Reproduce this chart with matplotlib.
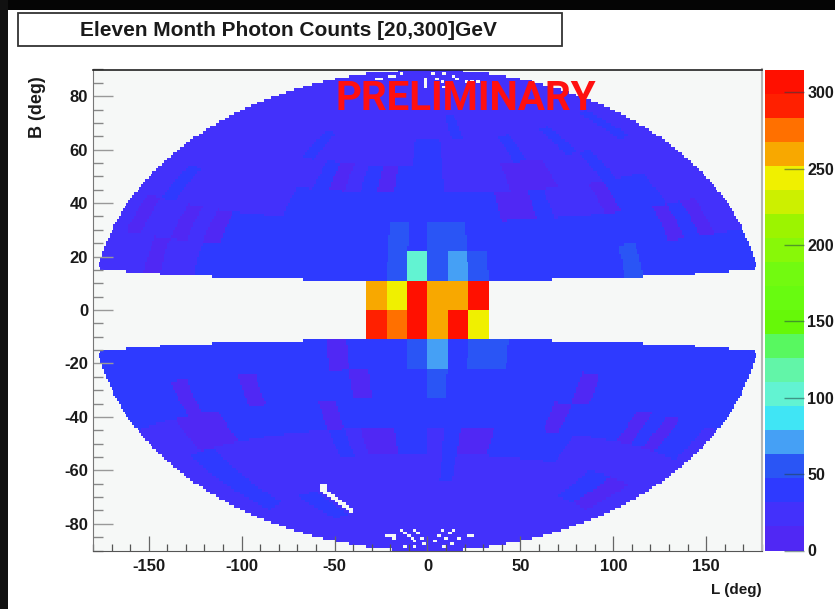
import numpy as np
import matplotlib
matplotlib.use("Agg")
import matplotlib.pyplot as plt
from matplotlib.colors import ListedColormap, BoundaryNorm
from matplotlib.patches import Rectangle
from matplotlib.ticker import MultipleLocator

W, H = 835, 609
plt.rcParams['font.family'] = ['Liberation Sans', 'DejaVu Sans']
plt.rcParams['font.weight'] = 'bold'
plt.rcParams['axes.unicode_minus'] = False

title = "Eleven Month Photon Counts [20,300]GeV"
stamp = "PRELIMINARY"
x_ticks = [-150, -100, -50, 0, 50, 100, 150]
y_ticks = [-80, -60, -40, -20, 0, 20, 40, 60, 80]
z_ticks = [0, 50, 100, 150, 200, 250, 300]
z_max = 315
n = np.nan

# counts per 10x10 degree sky cell; each row runs L = -180 ... 170
b80_90 = [24] * 36
b70_80 = [24] * 36
b60_70 = [24]*20 + [40] + [24]*15
b50_60 = [24,24,24,24,24,24, 24,24,24,40,24,24, 24,24,24,24,24,40, 40,24,24,24,24,24, 40,24,24,24,40,24, 24,24,24,40,24,24]
b40_50 = [24,24,24,24,24,24, 24,24,24,24,24,40, 8,24,40,8,40,40, 40,24,24,24,24,8, 8,8,24,24,24,40, 24,24,24,24,24,24]
b30_40 = [24,24,40,24,24,24, 24,24,24,24,40,40, 40,40,40,40,40,40, 40,40,40,40,8,8, 40,24,24,24,8,40, 40,40,24,24,24,24]
b20_30 = [24,8,24,24,8,24, 8,40,40,40,40,40, 40,40,40,40,55,40, 55,55,40,40,40,40, 40,40,40,40,40,40, 40,8,40,8,24,24]
b10_20 = [24,24,24,8,24,24, 40,40,40,40,40,40, 40,40,40,40,55,102, 55,70,55,40,40,40, 40,40,40,40,55,40, 40,40,40,40,40,40]
b00_10 = [n]*15 + [260,245,305,260,260,305] + [n]*15
bm10_00 = [n]*15 + [290,275,305,260,305,245] + [n]*15
bm20_10 = [40,40,40,40,40,40, 40,40,40,40,40,40, 40,8,40,40,40,55, 70,40,55,55,40,40, 40,40,40,40,40,40, 40,40,40,40,40,40]
bm30_20 = [40,40,40,40,8,40, 40,40,8,40,40,40, 40,40,8,40,40,40, 55,40,40,40,40,40, 40,40,8,40,40,40, 40,40,40,40,40,40]
bm40_30 = [24,24,24,8,8,8, 40,40,40,40,40,40, 8,40,40,40,40,40, 40,40,40,40,40,40, 40,8,40,40,40,40, 8,40,8,40,40,24]
bm50_40 = [24,24,40,40,24,24, 24,24,24,24,24,24, 40,24,8,8,40,40, 24,40,8,8,40,40, 40,40,40,24,24,24, 24,24,24,24,24,24]
bm60_50 = [24,24,40,40,24,24, 24,24,24,24,24,24, 24,24,24,24,24,24, 24,40,24,24,24,24, 24,24,24,24,24,24, 40,40,8,8,24,24]
bm70_60 = [24,24,24,24,24,24, 40,40,24,24,24,24, 24,24,24,24,24,24, 24,24,24,24,24,24, 24,24,24,24,24,24, 24,24,24,24,24,24]
bm80_70 = [24] * 36
bm90_80 = [24] * 36

sky_rows = [bm90_80, bm80_70, bm70_60, bm60_50, bm50_40, bm40_30, bm30_20, bm20_10, bm10_00,
            b00_10, b10_20, b20_30, b30_40, b40_50, b50_60, b60_70, b70_80, b80_90]

# empty map bins (plot L, plot B)
hole_x = [-30,-28,-26,-24,-22,-20,-18, -28,-26,-21,-19,-15, -2,-2,-2,-2, 2,4.5,7,8, 8,13,15,20,23,26,28,30,
          -23,-21,-19,-18.5, -15,-13,-11,-9,-8, -8,-6,-4,-3, -13,-8, 7,5,3, 13,11,9, 21,23,16,12,8,
          -58,-58,-58,-56,-56,-56,-56,-54,-54,-52,-52,-50,-50,-48,-48,-46,-46,-44,-44,-42,-42]
hole_y = [89.5,89.5,89.5,89.5,89.5,89.5,89.5, 86,86,87,87,88.5, 86,85,84,83, 88,86.6,85,83.5, 88.5,87,86,85.5,85.5,85,89,89,
          -85,-85,-85,-86, -82.5,-83.5,-85,-86,-87, -82.5,-84,-86,-88, -89,-88.5, -82.5,-85,-87, -82.5,-84,-85.5, -85,-85,-86,-87.5,-88.5,
          -66,-67,-68,-66,-67,-68,-69,-69,-70,-70,-71,-71,-72,-72,-73,-73,-74,-74,-75,-75,-76]

band_colors = ['#5028f4', '#4331fb', '#2e3aff', '#2a55f5', '#45a0f5', '#40e5f5', '#62f3d2',
               '#62f5a8', '#58f860', '#66f808', '#68fb10', '#72fa10', '#88f808', '#9cf400',
               '#ccf000', '#f0f000', '#f8a800', '#ff7000', '#ff2000', '#ff1000']

fig = plt.figure(figsize=(W/100, H/100), dpi=100, facecolor='white')

def box(x0, y0, x1, y1):
    return [x0/W, 1-y1/H, (x1-x0)/W, (y1-y0)/H]

def frect(x0, y0, x1, y1, **kw):
    l, b, w, h = box(x0, y0, x1, y1)
    fig.patches.append(Rectangle((l, b), w, h, transform=fig.transFigure, **kw))

frect(0, 0, W, 10, facecolor='#050505', edgecolor='none')
frect(0, 0, 8, H, facecolor='#111111', edgecolor='none')
frect(18, 13, 562, 46, facecolor='white', edgecolor='#333333', linewidth=1.3)
fig.text(288/W, 1-30/H, title, ha='center', va='center', fontsize=15, color='#1a1a1a')

ax = fig.add_axes(box(93, 69.5, 762, 550.5), facecolor='#f6f8f7')

# The plot is a 360x180 bin map in projected coordinates, filled from the sky cells (Hammer)
x_edges = np.arange(-180, 181, 1)
y_edges = np.arange(-90, 91, 1)
xc = (x_edges[:-1] + x_edges[1:]) / 2
yc = (y_edges[:-1] + y_edges[1:]) / 2
Xc, Yc = np.meshgrid(xc, yc)
xn, yn = Xc/180, Yc/90
inside = xn**2 + yn**2 <= 1
z = np.sqrt(np.clip(1 - xn**2/2 - yn**2/2, 0, None))
lat = np.degrees(np.arcsin(np.clip(z*np.sqrt(2)*yn, -1, 1)))
lon = 2*np.degrees(np.arctan2(z*2*np.sqrt(2)*xn, 2*(2*z**2-1)))
sky = np.array(sky_rows, dtype=float)
col = np.clip(((lon+180)//10).astype(int), 0, 35)
row = np.clip(((lat+90)//10).astype(int), 0, 17)
grid = sky[row, col]
grid[~inside] = np.nan
for hx, hy in zip(hole_x, hole_y):
    ix = int((hx+180)//1)
    grid[int((hy+90)//1), ix:ix+2] = np.nan

cmap = ListedColormap(band_colors)
norm = BoundaryNorm(np.linspace(0, z_max, 21), 20)
mesh = ax.pcolormesh(x_edges, y_edges, np.ma.masked_invalid(grid), cmap=cmap, norm=norm,
                     linewidth=0, antialiased=False, rasterized=True)
ax.set_xlim(-180, 180)
ax.set_ylim(-90, 90)
ax.set_xticks(x_ticks)
ax.set_yticks(y_ticks)
ax.xaxis.set_minor_locator(MultipleLocator(10))
ax.yaxis.set_minor_locator(MultipleLocator(5))
ax.tick_params(axis='x', which='major', direction='in', length=10.8, width=0.9, color='#666666', pad=6,
               labelsize=12, labelcolor='#1a1a1a')
ax.tick_params(axis='x', which='minor', direction='in', length=5, width=0.9, color='#555555')
ax.tick_params(axis='y', which='major', direction='in', length=14.4, width=1.0, color='#999999', pad=3.5,
               labelsize=12, labelcolor='#1a1a1a')
ax.tick_params(axis='y', which='minor', direction='in', length=7.2, width=1.0, color='#888888')
ax.spines['top'].set_color('#222222')
ax.spines['top'].set_linewidth(1.2)
ax.spines['left'].set_color('#777777')
ax.spines['bottom'].set_color('#555555')
ax.spines['right'].set_color('#b5b5b5')
ax.spines['right'].set_linewidth(1.5)

ax.text((466-427.5)/1.858, (310-99)/2.672, stamp, ha='center', va='center', fontsize=29, color='#ff1010',
        family=['Roboto', 'Liberation Sans'], fontweight='bold')

fig.text(38/W, 1-107/H, "B (deg)", rotation=90, ha='center', va='center', fontsize=13, color='#1a1a1a')
fig.text(762/W, 1-590/H, "L (deg)", ha='right', va='center', fontsize=11, color='#1a1a1a')

cax = fig.add_axes(box(765, 69.5, 804, 550.5))
cb = fig.colorbar(mesh, cax=cax, ticks=z_ticks, spacing='proportional')
cb.outline.set_visible(False)
cb.ax.yaxis.set_minor_locator(plt.NullLocator())
cb.ax.tick_params(axis='y', which='major', direction='in', length=14.4, width=1.0, color='#22444488', pad=2.5,
                  labelsize=11.6, labelcolor='#1a1a1a', right=True)
cb.set_ticklabels([str(t) for t in z_ticks])

fig.savefig('out.png', dpi=100, facecolor='white')
